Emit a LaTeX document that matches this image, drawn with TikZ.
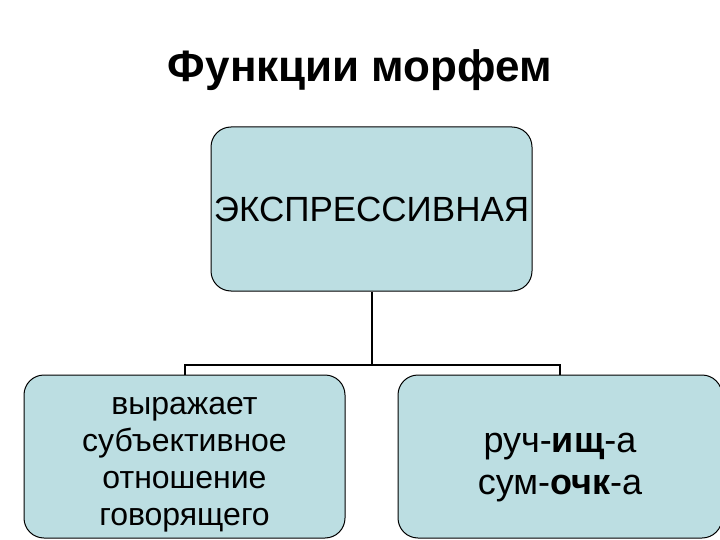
\documentclass[tikz,border=0pt]{standalone}
\usepackage{fontspec}
\setmainfont{Liberation Sans}
\definecolor{boxblue}{RGB}{188,222,226}
\begin{document}
\begin{tikzpicture}[x=1pt, y=-1pt,
    morphbox/.style={draw, line width=1pt, fill=boxblue, rounded corners=20pt, align=center, inner sep=0pt},
    link/.style={line width=2pt}]
    \useasboundingbox (0,0) rectangle (720,540);
    \node[font=\bfseries\fontsize{44}{48}\selectfont] (title) at (360,70) {Функции морфем};
    \node[morphbox, minimum width=321pt, minimum height=164pt, font=\fontsize{35}{40}\selectfont] (expr) at (371.5,209) {ЭКСПРЕССИВНАЯ};
    \node[morphbox, minimum width=321pt, minimum height=163pt, font=\fontsize{32}{37}\selectfont] (left) at (184.5,456.5)
        {\rule{0pt}{33pt}выражает\\субъективное\\отношение\\говорящего};
    \node[morphbox, minimum width=324pt, minimum height=163pt, font=\fontsize{36}{42}\selectfont] (right) at (560,456.5)
        {\rule{0pt}{42pt}руч-\textbf{ищ}-а\\сум-\textbf{очк}-а};
    \draw[link] (expr.south) -- ++(0,73) coordinate (fork);
    \draw[link] (left.north) |- (fork) -| (right.north);
\end{tikzpicture}
\end{document}
